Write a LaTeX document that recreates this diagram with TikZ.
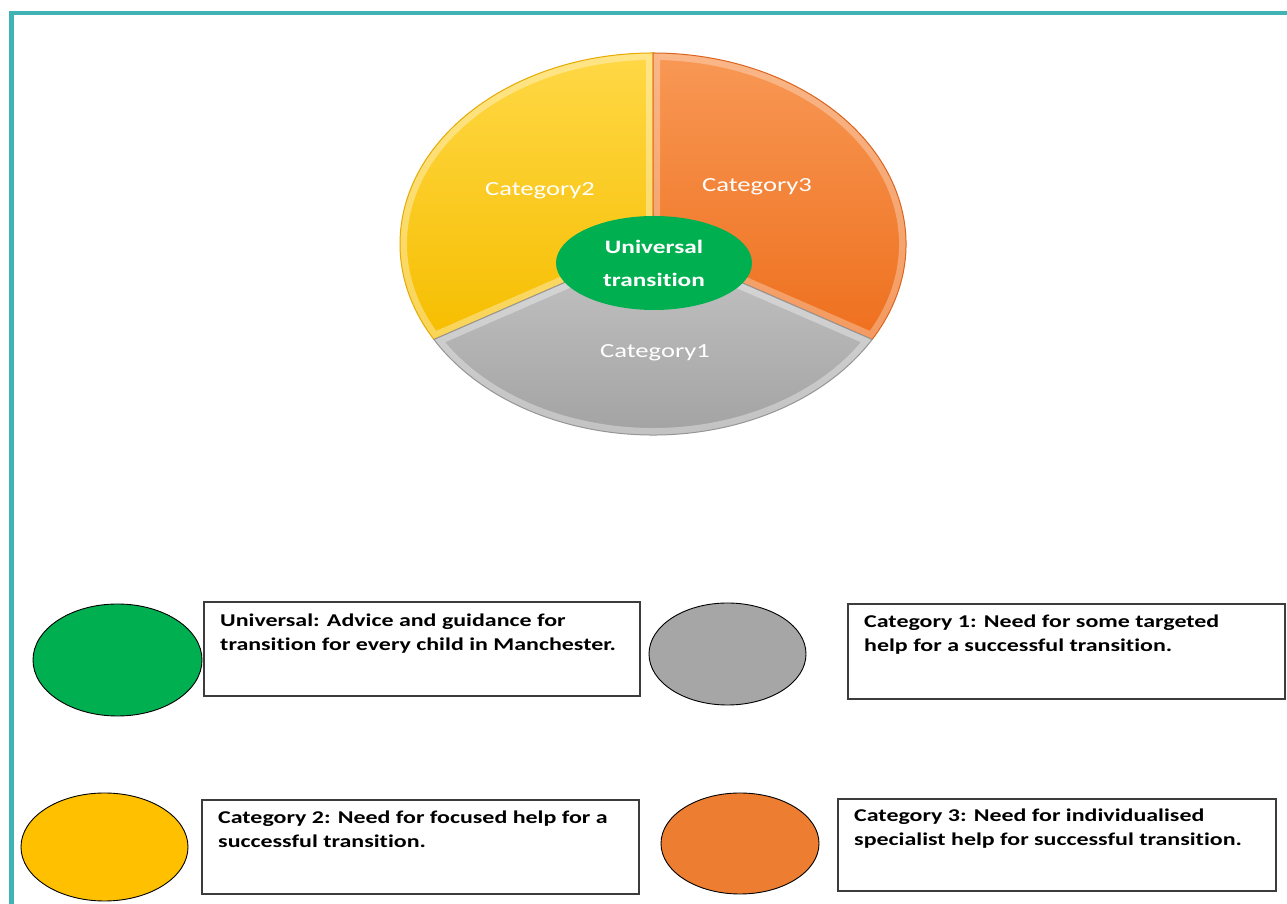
\documentclass[tikz,border=0pt]{standalone}
\usepackage{fontspec}
\setmainfont{Carlito}[FakeStretch=1.33, Ligatures=NoCommon]
\usetikzlibrary{shapes.geometric}
\definecolor{bordercol}{RGB}{64,180,181}
\definecolor{cgreen}{RGB}{0,176,80}
\definecolor{cgray}{RGB}{166,166,166}
\definecolor{cyellow}{RGB}{255,192,0}
\definecolor{corange}{RGB}{237,125,49}
\definecolor{boxline}{RGB}{60,60,60}
\tikzset{
  slice/.style 2 args={insert path={(C) -- ++(#1:253 and 191) arc[start angle=#1, end angle=#2, x radius=253, y radius=191] -- cycle}},
  legdot/.style={ellipse, draw=black, line width=0.9pt, inner sep=0pt},
  legbox/.style={rectangle, draw=boxline, line width=1.4pt, inner sep=0pt, fill=white},
  legtext/.style={anchor=north west, inner sep=0pt, align=left, font=\fontsize{18}{24}\selectfont\bfseries, text=black},
  pielabel/.style={text=white, font=\fontsize{20}{24}\selectfont, inner sep=0pt},
}
\begin{document}
\begin{tikzpicture}[x=1pt,y=1pt]
\useasboundingbox (0,0) rectangle (1287,904);
\fill[white] (0,0) rectangle (1287,904);
\draw[bordercol, line width=4.8pt] (11.3,-5) -- (11.3,891) -- (1295,891);

\coordinate (C) at (653,660);
% Category 2 slice (yellow)
\begin{scope}[shift={(150:2)}]
  \path[top color={rgb,255:red,255;green,216;blue,70}, bottom color={rgb,255:red,246;green,190;blue,0}, slice={90}{210}];
  \begin{scope}\clip[slice={90}{210}];
    \draw[white, opacity=0.35, line width=14pt, slice={90}{210}];
  \end{scope}
  \draw[color={rgb,255:red,230;green,170;blue,0}, line width=1pt, slice={90}{210}];
\end{scope}
% Category 3 slice (orange)
\begin{scope}[shift={(30:2)}]
  \path[top color={rgb,255:red,248;green,152;blue,85}, bottom color={rgb,255:red,238;green,112;blue,30}, slice={-30}{90}];
  \begin{scope}\clip[slice={-30}{90}];
    \draw[white, opacity=0.3, line width=14pt, slice={-30}{90}];
  \end{scope}
  \draw[color={rgb,255:red,220;green,100;blue,30}, line width=1pt, slice={-30}{90}];
\end{scope}
% Category 1 slice (gray)
\begin{scope}[shift={(270:2)}]
  \path[top color={rgb,255:red,196;green,196;blue,196}, bottom color={rgb,255:red,158;green,158;blue,158}, slice={210}{330}];
  \begin{scope}\clip[slice={210}{330}];
    \draw[white, opacity=0.35, line width=14pt, slice={210}{330}];
  \end{scope}
  \draw[color={rgb,255:red,150;green,150;blue,150}, line width=1pt, slice={210}{330}];
\end{scope}

\node[pielabel] (L2) at (540,713) {Category2};
\node[pielabel] (L3) at (757,717) {Category3};
\node[pielabel] (L1) at (655,551) {Category1};

\node[ellipse, fill=cgreen, minimum width=196pt, minimum height=94pt, inner sep=0pt, text=white, align=center, font=\fontsize{19}{33}\selectfont\bfseries] (U) at (654,641) {Universal\\transition};

% Legend
\node[legdot, fill=cgreen, minimum width=169pt, minimum height=112pt] (D0) at (117.5,244) {};
\node[legbox, minimum width=436pt, minimum height=94pt] (B0) at (422,255) {};
\node[legtext] (T0) at (220,290) {Universal: Advice and guidance for\\transition for every child in Manchester.};

\node[legdot, fill=cgray, minimum width=157pt, minimum height=102pt] (D1) at (727.5,250) {};
\node[legbox, minimum width=437pt, minimum height=95pt] (B1) at (1066.5,252.5) {};
\node[legtext] (T1) at (864,289) {Category 1: Need for some targeted\\help for a successful transition.};

\node[legdot, fill=cyellow, minimum width=167pt, minimum height=108pt] (D2) at (104.5,57) {};
\node[legbox, minimum width=437pt, minimum height=94pt] (B2) at (420.5,57) {};
\node[legtext] (T2) at (218,93) {Category 2: Need for focused help for a\\successful transition.};

\node[legdot, fill=corange, minimum width=158pt, minimum height=101pt] (D3) at (740,60.5) {};
\node[legbox, minimum width=438pt, minimum height=92pt] (B3) at (1057,59) {};
\node[legtext] (T3) at (854,95) {Category 3: Need for individualised\\specialist help for successful transition.};
\end{tikzpicture}
\end{document}
